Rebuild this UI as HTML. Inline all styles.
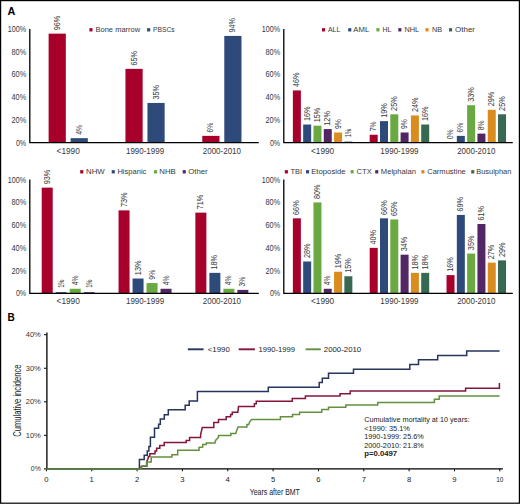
<!DOCTYPE html>
<html><head><meta charset="utf-8"><style>
html,body{margin:0;padding:0;background:#fff;}
body{width:520px;height:504px;overflow:hidden;}
svg{display:block;font-family:"Liberation Sans", sans-serif;}
</style></head><body>
<svg width="520" height="504" viewBox="0 0 520 504">
<rect x="0" y="0" width="520" height="504" fill="#fff"/>
<text x="26.20" y="32.04" font-size="8.4" text-anchor="end" textLength="18.4" lengthAdjust="spacingAndGlyphs" fill="#383838">100%</text>
<text x="26.20" y="54.76" font-size="8.4" text-anchor="end" textLength="14.7" lengthAdjust="spacingAndGlyphs" fill="#383838">80%</text>
<text x="26.20" y="77.48" font-size="8.4" text-anchor="end" textLength="14.7" lengthAdjust="spacingAndGlyphs" fill="#383838">60%</text>
<text x="26.20" y="100.20" font-size="8.4" text-anchor="end" textLength="14.7" lengthAdjust="spacingAndGlyphs" fill="#383838">40%</text>
<text x="26.20" y="122.92" font-size="8.4" text-anchor="end" textLength="14.7" lengthAdjust="spacingAndGlyphs" fill="#383838">20%</text>
<text x="26.20" y="145.64" font-size="8.4" text-anchor="end" textLength="10.3" lengthAdjust="spacingAndGlyphs" fill="#383838">0%</text>
<rect x="48.62" y="33.64" width="17.2" height="109.06" fill="#a6002b"/>
<text transform="translate(59.82,30.24) rotate(-90)" font-size="8.5" fill="#383838" textLength="14.5" lengthAdjust="spacingAndGlyphs">96%</text>
<rect x="70.62" y="138.16" width="17.2" height="4.54" fill="#2d4a7a"/>
<text transform="translate(81.82,134.76) rotate(-90)" font-size="8.5" fill="#383838" textLength="9.9" lengthAdjust="spacingAndGlyphs">4%</text>
<rect x="125.45" y="68.86" width="17.2" height="73.84" fill="#a6002b"/>
<text transform="translate(136.65,65.46) rotate(-90)" font-size="8.5" fill="#383838" textLength="14.5" lengthAdjust="spacingAndGlyphs">65%</text>
<rect x="147.45" y="102.94" width="17.2" height="39.76" fill="#2d4a7a"/>
<text transform="translate(158.65,99.54) rotate(-90)" font-size="8.5" fill="#383838" textLength="14.5" lengthAdjust="spacingAndGlyphs">35%</text>
<rect x="202.28" y="135.88" width="17.2" height="6.82" fill="#a6002b"/>
<text transform="translate(213.48,132.48) rotate(-90)" font-size="8.5" fill="#383838" textLength="9.9" lengthAdjust="spacingAndGlyphs">6%</text>
<rect x="224.28" y="35.92" width="17.2" height="106.78" fill="#2d4a7a"/>
<text transform="translate(235.48,32.52) rotate(-90)" font-size="8.5" fill="#383838" textLength="14.5" lengthAdjust="spacingAndGlyphs">94%</text>
<path d="M29.80,29.00V142.70H258.80" fill="none" stroke="#000" stroke-width="1.3"/>
<text x="68.22" y="153.55" font-size="8.2" text-anchor="middle" textLength="23.2" lengthAdjust="spacingAndGlyphs" fill="#383838">&lt;1990</text>
<text x="145.05" y="153.55" font-size="8.2" text-anchor="middle" textLength="38.2" lengthAdjust="spacingAndGlyphs" fill="#383838">1990-1999</text>
<text x="221.88" y="153.55" font-size="8.2" text-anchor="middle" textLength="38.2" lengthAdjust="spacingAndGlyphs" fill="#383838">2000-2010</text>
<rect x="89.40" y="28.15" width="3.1" height="3.3" fill="#a6002b"/>
<text x="95.50" y="31.70" font-size="7.9" textLength="44.699999999999996" lengthAdjust="spacingAndGlyphs" fill="#383838">Bone marrow</text>
<rect x="147.10" y="28.15" width="3.1" height="3.3" fill="#2d4a7a"/>
<text x="153.00" y="31.70" font-size="7.9" textLength="21.599999999999998" lengthAdjust="spacingAndGlyphs" fill="#383838">PBSCs</text>
<text x="280.20" y="32.04" font-size="8.4" text-anchor="end" textLength="18.4" lengthAdjust="spacingAndGlyphs" fill="#383838">100%</text>
<text x="280.20" y="54.76" font-size="8.4" text-anchor="end" textLength="14.7" lengthAdjust="spacingAndGlyphs" fill="#383838">80%</text>
<text x="280.20" y="77.48" font-size="8.4" text-anchor="end" textLength="14.7" lengthAdjust="spacingAndGlyphs" fill="#383838">60%</text>
<text x="280.20" y="100.20" font-size="8.4" text-anchor="end" textLength="14.7" lengthAdjust="spacingAndGlyphs" fill="#383838">40%</text>
<text x="280.20" y="122.92" font-size="8.4" text-anchor="end" textLength="14.7" lengthAdjust="spacingAndGlyphs" fill="#383838">20%</text>
<text x="280.20" y="145.64" font-size="8.4" text-anchor="end" textLength="10.3" lengthAdjust="spacingAndGlyphs" fill="#383838">0%</text>
<rect x="292.87" y="90.44" width="8.0" height="52.26" fill="#a6002b"/>
<text transform="translate(299.47,87.04) rotate(-90)" font-size="8.5" fill="#383838" textLength="14.5" lengthAdjust="spacingAndGlyphs">46%</text>
<rect x="303.17" y="124.52" width="8.0" height="18.18" fill="#2d4a7a"/>
<text transform="translate(309.77,121.12) rotate(-90)" font-size="8.5" fill="#383838" textLength="14.5" lengthAdjust="spacingAndGlyphs">16%</text>
<rect x="313.47" y="125.66" width="8.0" height="17.04" fill="#6aa842"/>
<text transform="translate(320.07,122.26) rotate(-90)" font-size="8.5" fill="#383838" textLength="14.5" lengthAdjust="spacingAndGlyphs">15%</text>
<rect x="323.77" y="129.07" width="8.0" height="13.63" fill="#522664"/>
<text transform="translate(330.37,125.67) rotate(-90)" font-size="8.5" fill="#383838" textLength="14.5" lengthAdjust="spacingAndGlyphs">12%</text>
<rect x="334.07" y="132.48" width="8.0" height="10.22" fill="#da8c1e"/>
<text transform="translate(340.67,129.08) rotate(-90)" font-size="8.5" fill="#383838" textLength="9.9" lengthAdjust="spacingAndGlyphs">9%</text>
<rect x="344.37" y="141.56" width="8.0" height="1.14" fill="#386852"/>
<text transform="translate(350.97,137.26) rotate(-90)" font-size="8.5" fill="#383838" textLength="8.3" lengthAdjust="spacingAndGlyphs">1%</text>
<rect x="369.70" y="134.75" width="8.0" height="7.95" fill="#a6002b"/>
<text transform="translate(376.30,131.35) rotate(-90)" font-size="8.5" fill="#383838" textLength="9.9" lengthAdjust="spacingAndGlyphs">7%</text>
<rect x="380.00" y="121.12" width="8.0" height="21.58" fill="#2d4a7a"/>
<text transform="translate(386.60,117.72) rotate(-90)" font-size="8.5" fill="#383838" textLength="14.5" lengthAdjust="spacingAndGlyphs">19%</text>
<rect x="390.30" y="114.30" width="8.0" height="28.40" fill="#6aa842"/>
<text transform="translate(396.90,110.90) rotate(-90)" font-size="8.5" fill="#383838" textLength="14.5" lengthAdjust="spacingAndGlyphs">25%</text>
<rect x="400.60" y="132.48" width="8.0" height="10.22" fill="#522664"/>
<text transform="translate(407.20,129.08) rotate(-90)" font-size="8.5" fill="#383838" textLength="9.9" lengthAdjust="spacingAndGlyphs">9%</text>
<rect x="410.90" y="115.44" width="8.0" height="27.26" fill="#da8c1e"/>
<text transform="translate(417.50,112.04) rotate(-90)" font-size="8.5" fill="#383838" textLength="14.5" lengthAdjust="spacingAndGlyphs">24%</text>
<rect x="421.20" y="124.52" width="8.0" height="18.18" fill="#386852"/>
<text transform="translate(427.80,121.12) rotate(-90)" font-size="8.5" fill="#383838" textLength="14.5" lengthAdjust="spacingAndGlyphs">16%</text>
<text transform="translate(453.13,139.30) rotate(-90)" font-size="8.5" fill="#383838" textLength="9.9" lengthAdjust="spacingAndGlyphs">0%</text>
<rect x="456.83" y="135.88" width="8.0" height="6.82" fill="#2d4a7a"/>
<text transform="translate(463.43,132.48) rotate(-90)" font-size="8.5" fill="#383838" textLength="9.9" lengthAdjust="spacingAndGlyphs">6%</text>
<rect x="467.13" y="105.21" width="8.0" height="37.49" fill="#6aa842"/>
<text transform="translate(473.73,101.81) rotate(-90)" font-size="8.5" fill="#383838" textLength="14.5" lengthAdjust="spacingAndGlyphs">33%</text>
<rect x="477.43" y="133.61" width="8.0" height="9.09" fill="#522664"/>
<text transform="translate(484.03,130.21) rotate(-90)" font-size="8.5" fill="#383838" textLength="9.9" lengthAdjust="spacingAndGlyphs">8%</text>
<rect x="487.73" y="109.76" width="8.0" height="32.94" fill="#da8c1e"/>
<text transform="translate(494.33,106.36) rotate(-90)" font-size="8.5" fill="#383838" textLength="14.5" lengthAdjust="spacingAndGlyphs">29%</text>
<rect x="498.03" y="114.30" width="8.0" height="28.40" fill="#386852"/>
<text transform="translate(504.63,110.90) rotate(-90)" font-size="8.5" fill="#383838" textLength="14.5" lengthAdjust="spacingAndGlyphs">25%</text>
<path d="M283.80,29.00V142.70H512.80" fill="none" stroke="#000" stroke-width="1.3"/>
<text x="322.62" y="153.55" font-size="8.2" text-anchor="middle" textLength="23.2" lengthAdjust="spacingAndGlyphs" fill="#383838">&lt;1990</text>
<text x="399.45" y="153.55" font-size="8.2" text-anchor="middle" textLength="38.2" lengthAdjust="spacingAndGlyphs" fill="#383838">1990-1999</text>
<text x="476.28" y="153.55" font-size="8.2" text-anchor="middle" textLength="38.2" lengthAdjust="spacingAndGlyphs" fill="#383838">2000-2010</text>
<rect x="322.00" y="28.15" width="3.1" height="3.3" fill="#a6002b"/>
<text x="327.90" y="31.70" font-size="7.9" textLength="12.4" lengthAdjust="spacingAndGlyphs" fill="#383838">ALL</text>
<rect x="348.20" y="28.15" width="3.1" height="3.3" fill="#2d4a7a"/>
<text x="353.30" y="31.70" font-size="7.9" textLength="15.9" lengthAdjust="spacingAndGlyphs" fill="#383838">AML</text>
<rect x="376.40" y="28.15" width="3.1" height="3.3" fill="#6aa842"/>
<text x="382.50" y="31.70" font-size="7.9" textLength="8.9" lengthAdjust="spacingAndGlyphs" fill="#383838">HL</text>
<rect x="398.30" y="28.15" width="3.1" height="3.3" fill="#522664"/>
<text x="404.40" y="31.70" font-size="7.9" textLength="14.700000000000001" lengthAdjust="spacingAndGlyphs" fill="#383838">NHL</text>
<rect x="425.50" y="28.15" width="3.1" height="3.3" fill="#da8c1e"/>
<text x="432.00" y="31.70" font-size="7.9" textLength="10.1" lengthAdjust="spacingAndGlyphs" fill="#383838">NB</text>
<rect x="449.00" y="28.15" width="3.1" height="3.3" fill="#386852"/>
<text x="455.10" y="31.70" font-size="7.9" textLength="19.9" lengthAdjust="spacingAndGlyphs" fill="#383838">Other</text>
<text x="26.20" y="182.64" font-size="8.4" text-anchor="end" textLength="18.4" lengthAdjust="spacingAndGlyphs" fill="#383838">100%</text>
<text x="26.20" y="205.36" font-size="8.4" text-anchor="end" textLength="14.7" lengthAdjust="spacingAndGlyphs" fill="#383838">80%</text>
<text x="26.20" y="228.08" font-size="8.4" text-anchor="end" textLength="14.7" lengthAdjust="spacingAndGlyphs" fill="#383838">60%</text>
<text x="26.20" y="250.80" font-size="8.4" text-anchor="end" textLength="14.7" lengthAdjust="spacingAndGlyphs" fill="#383838">40%</text>
<text x="26.20" y="273.52" font-size="8.4" text-anchor="end" textLength="14.7" lengthAdjust="spacingAndGlyphs" fill="#383838">20%</text>
<text x="26.20" y="296.24" font-size="8.4" text-anchor="end" textLength="10.3" lengthAdjust="spacingAndGlyphs" fill="#383838">0%</text>
<rect x="41.72" y="187.65" width="11.0" height="105.65" fill="#a6002b"/>
<text transform="translate(49.82,184.25) rotate(-90)" font-size="8.5" fill="#383838" textLength="14.5" lengthAdjust="spacingAndGlyphs">93%</text>
<rect x="55.72" y="292.16" width="11.0" height="1.14" fill="#2d4a7a"/>
<text transform="translate(63.82,287.86) rotate(-90)" font-size="8.5" fill="#383838" textLength="8.3" lengthAdjust="spacingAndGlyphs">1%</text>
<rect x="69.72" y="288.76" width="11.0" height="4.54" fill="#6aa842"/>
<text transform="translate(77.82,285.36) rotate(-90)" font-size="8.5" fill="#383838" textLength="9.9" lengthAdjust="spacingAndGlyphs">4%</text>
<rect x="83.72" y="292.16" width="11.0" height="1.14" fill="#522664"/>
<text transform="translate(91.82,287.86) rotate(-90)" font-size="8.5" fill="#383838" textLength="8.3" lengthAdjust="spacingAndGlyphs">1%</text>
<rect x="118.55" y="210.37" width="11.0" height="82.93" fill="#a6002b"/>
<text transform="translate(126.65,206.97) rotate(-90)" font-size="8.5" fill="#383838" textLength="14.5" lengthAdjust="spacingAndGlyphs">73%</text>
<rect x="132.55" y="278.53" width="11.0" height="14.77" fill="#2d4a7a"/>
<text transform="translate(140.65,275.13) rotate(-90)" font-size="8.5" fill="#383838" textLength="14.5" lengthAdjust="spacingAndGlyphs">13%</text>
<rect x="146.55" y="283.08" width="11.0" height="10.22" fill="#6aa842"/>
<text transform="translate(154.65,279.68) rotate(-90)" font-size="8.5" fill="#383838" textLength="9.9" lengthAdjust="spacingAndGlyphs">9%</text>
<rect x="160.55" y="288.76" width="11.0" height="4.54" fill="#522664"/>
<text transform="translate(168.65,285.36) rotate(-90)" font-size="8.5" fill="#383838" textLength="9.9" lengthAdjust="spacingAndGlyphs">4%</text>
<rect x="195.38" y="212.64" width="11.0" height="80.66" fill="#a6002b"/>
<text transform="translate(203.48,209.24) rotate(-90)" font-size="8.5" fill="#383838" textLength="14.5" lengthAdjust="spacingAndGlyphs">71%</text>
<rect x="209.38" y="272.85" width="11.0" height="20.45" fill="#2d4a7a"/>
<text transform="translate(217.48,269.45) rotate(-90)" font-size="8.5" fill="#383838" textLength="14.5" lengthAdjust="spacingAndGlyphs">18%</text>
<rect x="223.38" y="288.76" width="11.0" height="4.54" fill="#6aa842"/>
<text transform="translate(231.48,285.36) rotate(-90)" font-size="8.5" fill="#383838" textLength="9.9" lengthAdjust="spacingAndGlyphs">4%</text>
<rect x="237.38" y="289.89" width="11.0" height="3.41" fill="#522664"/>
<text transform="translate(245.48,286.49) rotate(-90)" font-size="8.5" fill="#383838" textLength="9.9" lengthAdjust="spacingAndGlyphs">3%</text>
<path d="M29.80,179.40V293.30H258.80" fill="none" stroke="#000" stroke-width="1.3"/>
<text x="68.22" y="304.15" font-size="8.2" text-anchor="middle" textLength="23.2" lengthAdjust="spacingAndGlyphs" fill="#383838">&lt;1990</text>
<text x="145.05" y="304.15" font-size="8.2" text-anchor="middle" textLength="38.2" lengthAdjust="spacingAndGlyphs" fill="#383838">1990-1999</text>
<text x="221.88" y="304.15" font-size="8.2" text-anchor="middle" textLength="38.2" lengthAdjust="spacingAndGlyphs" fill="#383838">2000-2010</text>
<rect x="80.20" y="170.15" width="3.1" height="3.3" fill="#a6002b"/>
<text x="86.00" y="173.70" font-size="7.9" textLength="18.799999999999997" lengthAdjust="spacingAndGlyphs" fill="#383838">NHW</text>
<rect x="111.70" y="170.15" width="3.1" height="3.3" fill="#2d4a7a"/>
<text x="117.40" y="173.70" font-size="7.9" textLength="29.0" lengthAdjust="spacingAndGlyphs" fill="#383838">Hispanic</text>
<rect x="154.00" y="170.15" width="3.1" height="3.3" fill="#6aa842"/>
<text x="159.30" y="173.70" font-size="7.9" textLength="16.5" lengthAdjust="spacingAndGlyphs" fill="#383838">NHB</text>
<rect x="182.70" y="170.15" width="3.1" height="3.3" fill="#522664"/>
<text x="188.30" y="173.70" font-size="7.9" textLength="19.4" lengthAdjust="spacingAndGlyphs" fill="#383838">Other</text>
<text x="280.20" y="182.64" font-size="8.4" text-anchor="end" textLength="18.4" lengthAdjust="spacingAndGlyphs" fill="#383838">100%</text>
<text x="280.20" y="205.36" font-size="8.4" text-anchor="end" textLength="14.7" lengthAdjust="spacingAndGlyphs" fill="#383838">80%</text>
<text x="280.20" y="228.08" font-size="8.4" text-anchor="end" textLength="14.7" lengthAdjust="spacingAndGlyphs" fill="#383838">60%</text>
<text x="280.20" y="250.80" font-size="8.4" text-anchor="end" textLength="14.7" lengthAdjust="spacingAndGlyphs" fill="#383838">40%</text>
<text x="280.20" y="273.52" font-size="8.4" text-anchor="end" textLength="14.7" lengthAdjust="spacingAndGlyphs" fill="#383838">20%</text>
<text x="280.20" y="296.24" font-size="8.4" text-anchor="end" textLength="10.3" lengthAdjust="spacingAndGlyphs" fill="#383838">0%</text>
<rect x="292.87" y="218.32" width="8.0" height="74.98" fill="#a6002b"/>
<text transform="translate(299.47,214.92) rotate(-90)" font-size="8.5" fill="#383838" textLength="14.5" lengthAdjust="spacingAndGlyphs">66%</text>
<rect x="303.17" y="261.49" width="8.0" height="31.81" fill="#2d4a7a"/>
<text transform="translate(309.77,258.09) rotate(-90)" font-size="8.5" fill="#383838" textLength="14.5" lengthAdjust="spacingAndGlyphs">28%</text>
<rect x="313.47" y="202.42" width="8.0" height="90.88" fill="#6aa842"/>
<text transform="translate(320.07,199.02) rotate(-90)" font-size="8.5" fill="#383838" textLength="14.5" lengthAdjust="spacingAndGlyphs">80%</text>
<rect x="323.77" y="288.76" width="8.0" height="4.54" fill="#522664"/>
<text transform="translate(330.37,285.36) rotate(-90)" font-size="8.5" fill="#383838" textLength="9.9" lengthAdjust="spacingAndGlyphs">4%</text>
<rect x="334.07" y="271.72" width="8.0" height="21.58" fill="#da8c1e"/>
<text transform="translate(340.67,268.32) rotate(-90)" font-size="8.5" fill="#383838" textLength="14.5" lengthAdjust="spacingAndGlyphs">19%</text>
<rect x="344.37" y="276.26" width="8.0" height="17.04" fill="#386852"/>
<text transform="translate(350.97,272.86) rotate(-90)" font-size="8.5" fill="#383838" textLength="14.5" lengthAdjust="spacingAndGlyphs">15%</text>
<rect x="369.70" y="247.86" width="8.0" height="45.44" fill="#a6002b"/>
<text transform="translate(376.30,244.46) rotate(-90)" font-size="8.5" fill="#383838" textLength="14.5" lengthAdjust="spacingAndGlyphs">40%</text>
<rect x="380.00" y="218.32" width="8.0" height="74.98" fill="#2d4a7a"/>
<text transform="translate(386.60,214.92) rotate(-90)" font-size="8.5" fill="#383838" textLength="14.5" lengthAdjust="spacingAndGlyphs">66%</text>
<rect x="390.30" y="219.46" width="8.0" height="73.84" fill="#6aa842"/>
<text transform="translate(396.90,216.06) rotate(-90)" font-size="8.5" fill="#383838" textLength="14.5" lengthAdjust="spacingAndGlyphs">65%</text>
<rect x="400.60" y="254.68" width="8.0" height="38.62" fill="#522664"/>
<text transform="translate(407.20,251.28) rotate(-90)" font-size="8.5" fill="#383838" textLength="14.5" lengthAdjust="spacingAndGlyphs">34%</text>
<rect x="410.90" y="272.85" width="8.0" height="20.45" fill="#da8c1e"/>
<text transform="translate(417.50,269.45) rotate(-90)" font-size="8.5" fill="#383838" textLength="14.5" lengthAdjust="spacingAndGlyphs">18%</text>
<rect x="421.20" y="272.85" width="8.0" height="20.45" fill="#386852"/>
<text transform="translate(427.80,269.45) rotate(-90)" font-size="8.5" fill="#383838" textLength="14.5" lengthAdjust="spacingAndGlyphs">18%</text>
<rect x="446.53" y="275.12" width="8.0" height="18.18" fill="#a6002b"/>
<text transform="translate(453.13,271.72) rotate(-90)" font-size="8.5" fill="#383838" textLength="14.5" lengthAdjust="spacingAndGlyphs">16%</text>
<rect x="456.83" y="214.92" width="8.0" height="78.38" fill="#2d4a7a"/>
<text transform="translate(463.43,211.52) rotate(-90)" font-size="8.5" fill="#383838" textLength="14.5" lengthAdjust="spacingAndGlyphs">69%</text>
<rect x="467.13" y="253.54" width="8.0" height="39.76" fill="#6aa842"/>
<text transform="translate(473.73,250.14) rotate(-90)" font-size="8.5" fill="#383838" textLength="14.5" lengthAdjust="spacingAndGlyphs">35%</text>
<rect x="477.43" y="224.00" width="8.0" height="69.30" fill="#522664"/>
<text transform="translate(484.03,220.60) rotate(-90)" font-size="8.5" fill="#383838" textLength="14.5" lengthAdjust="spacingAndGlyphs">61%</text>
<rect x="487.73" y="262.63" width="8.0" height="30.67" fill="#da8c1e"/>
<text transform="translate(494.33,259.23) rotate(-90)" font-size="8.5" fill="#383838" textLength="14.5" lengthAdjust="spacingAndGlyphs">27%</text>
<rect x="498.03" y="260.36" width="8.0" height="32.94" fill="#386852"/>
<text transform="translate(504.63,256.96) rotate(-90)" font-size="8.5" fill="#383838" textLength="14.5" lengthAdjust="spacingAndGlyphs">29%</text>
<path d="M283.80,179.40V293.30H512.80" fill="none" stroke="#000" stroke-width="1.3"/>
<text x="322.62" y="304.15" font-size="8.2" text-anchor="middle" textLength="23.2" lengthAdjust="spacingAndGlyphs" fill="#383838">&lt;1990</text>
<text x="399.45" y="304.15" font-size="8.2" text-anchor="middle" textLength="38.2" lengthAdjust="spacingAndGlyphs" fill="#383838">1990-1999</text>
<text x="476.28" y="304.15" font-size="8.2" text-anchor="middle" textLength="38.2" lengthAdjust="spacingAndGlyphs" fill="#383838">2000-2010</text>
<rect x="284.80" y="170.15" width="3.1" height="3.3" fill="#a6002b"/>
<text x="290.50" y="173.70" font-size="7.9" textLength="11.6" lengthAdjust="spacingAndGlyphs" fill="#383838">TBI</text>
<rect x="306.00" y="170.15" width="3.1" height="3.3" fill="#2d4a7a"/>
<text x="311.20" y="173.70" font-size="7.9" textLength="34.4" lengthAdjust="spacingAndGlyphs" fill="#383838">Etoposide</text>
<rect x="350.60" y="170.15" width="3.1" height="3.3" fill="#6aa842"/>
<text x="356.60" y="173.70" font-size="7.9" textLength="15.200000000000001" lengthAdjust="spacingAndGlyphs" fill="#383838">CTX</text>
<rect x="375.20" y="170.15" width="3.1" height="3.3" fill="#522664"/>
<text x="380.80" y="173.70" font-size="7.9" textLength="35.199999999999996" lengthAdjust="spacingAndGlyphs" fill="#383838">Melphalan</text>
<rect x="421.30" y="170.15" width="3.1" height="3.3" fill="#da8c1e"/>
<text x="427.20" y="173.70" font-size="7.9" textLength="38.6" lengthAdjust="spacingAndGlyphs" fill="#383838">Carmustine</text>
<rect x="471.20" y="170.15" width="3.1" height="3.3" fill="#386852"/>
<text x="476.20" y="173.70" font-size="7.9" textLength="35.199999999999996" lengthAdjust="spacingAndGlyphs" fill="#383838">Busulphan</text>
<text x="7.60" y="15.30" font-size="10.8" font-weight="bold" fill="#000">A</text>
<text x="7.60" y="320.90" font-size="10.0" font-weight="bold" fill="#000">B</text>
<path d="M44.0,468.90H46.5" stroke="#000" stroke-width="1"/>
<text x="40.80" y="471.46" font-size="7.1" text-anchor="end" textLength="10.0" lengthAdjust="spacingAndGlyphs" fill="#333">0%</text>
<path d="M44.0,435.35H46.5" stroke="#000" stroke-width="1"/>
<text x="40.80" y="437.91" font-size="7.1" text-anchor="end" textLength="15.1" lengthAdjust="spacingAndGlyphs" fill="#333">10%</text>
<path d="M44.0,401.80H46.5" stroke="#000" stroke-width="1"/>
<text x="40.80" y="404.36" font-size="7.1" text-anchor="end" textLength="15.1" lengthAdjust="spacingAndGlyphs" fill="#333">20%</text>
<path d="M44.0,368.25H46.5" stroke="#000" stroke-width="1"/>
<text x="40.80" y="370.81" font-size="7.1" text-anchor="end" textLength="15.1" lengthAdjust="spacingAndGlyphs" fill="#333">30%</text>
<path d="M44.0,334.70H46.5" stroke="#000" stroke-width="1"/>
<text x="40.80" y="337.26" font-size="7.1" text-anchor="end" textLength="15.1" lengthAdjust="spacingAndGlyphs" fill="#333">40%</text>
<path d="M46.40,468.9V471.30" stroke="#000" stroke-width="1"/>
<text x="46.40" y="481.70" font-size="7.7" text-anchor="middle" fill="#222">0</text>
<path d="M91.74,468.9V471.30" stroke="#000" stroke-width="1"/>
<text x="91.74" y="481.70" font-size="7.7" text-anchor="middle" fill="#222">1</text>
<path d="M137.08,468.9V471.30" stroke="#000" stroke-width="1"/>
<text x="137.08" y="481.70" font-size="7.7" text-anchor="middle" fill="#222">2</text>
<path d="M182.42,468.9V471.30" stroke="#000" stroke-width="1"/>
<text x="182.42" y="481.70" font-size="7.7" text-anchor="middle" fill="#222">3</text>
<path d="M227.76,468.9V471.30" stroke="#000" stroke-width="1"/>
<text x="227.76" y="481.70" font-size="7.7" text-anchor="middle" fill="#222">4</text>
<path d="M273.10,468.9V471.30" stroke="#000" stroke-width="1"/>
<text x="273.10" y="481.70" font-size="7.7" text-anchor="middle" fill="#222">5</text>
<path d="M318.44,468.9V471.30" stroke="#000" stroke-width="1"/>
<text x="318.44" y="481.70" font-size="7.7" text-anchor="middle" fill="#222">6</text>
<path d="M363.78,468.9V471.30" stroke="#000" stroke-width="1"/>
<text x="363.78" y="481.70" font-size="7.7" text-anchor="middle" fill="#222">7</text>
<path d="M409.12,468.9V471.30" stroke="#000" stroke-width="1"/>
<text x="409.12" y="481.70" font-size="7.7" text-anchor="middle" fill="#222">8</text>
<path d="M454.46,468.9V471.30" stroke="#000" stroke-width="1"/>
<text x="454.46" y="481.70" font-size="7.7" text-anchor="middle" fill="#222">9</text>
<path d="M499.80,468.9V471.30" stroke="#000" stroke-width="1"/>
<text x="499.80" y="481.70" font-size="7.7" text-anchor="middle" textLength="7.2" lengthAdjust="spacingAndGlyphs" fill="#222">10</text>
<path d="M46.9,332.50V468.9H502.9" fill="none" stroke="#000" stroke-width="1.3"/>
<text x="274.80" y="495.00" font-size="9.6" text-anchor="middle" textLength="50.2" lengthAdjust="spacingAndGlyphs" fill="#222">Years after BMT</text>
<text transform="translate(20.9,400.6) rotate(-90)" font-size="10.2" text-anchor="middle" fill="#222" textLength="72.3" lengthAdjust="spacingAndGlyphs">Cumulative incidence</text>
<path d="M46.4,468.9 L139.4,468.9 L139.4,459.4 L144.2,459.4 L144.2,455.3 L147.3,455.3 L147.3,451.0 L148.9,451.0 L148.9,446.5 L150.4,446.5 L150.4,437.3 L154.5,437.3 L154.5,428.2 L158.6,428.2 L158.6,424.3 L160.3,424.3 L160.3,418.9 L164.3,418.9 L164.3,414.8 L168.3,414.8 L168.3,409.7 L185.2,409.7 L185.2,405.3 L189.2,405.3 L189.2,400.9 L197.4,400.9 L197.4,391.5 L268.3,391.5 L268.3,387.3 L319.2,387.3 L319.2,382.6 L322.3,382.6 L322.3,378.3 L328.5,378.3 L328.5,373.2 L353.5,373.2 L353.5,369.3 L409.8,369.3 L409.8,364.6 L418.5,364.6 L418.5,359.8 L437.7,359.8 L437.7,355.4 L466.7,355.4 L466.7,350.9 L499.6,350.9" fill="none" stroke="#27345c" stroke-width="1.5" stroke-linejoin="miter"/>
<path d="M140.5,468.9 L141.3,466.2 L146.9,466.2 L146.9,461.0 L148.3,458.0 L148.3,456.5 L149.8,456.5 L149.8,453.8 L155.0,453.8 L155.0,450.9 L156.6,450.9 L156.6,448.2 L159.8,448.2 L159.8,445.5 L164.2,445.5 L164.2,442.4 L186.2,442.4 L186.2,440.4 L189.6,440.4 L189.6,437.5 L200.6,437.5 L200.6,434.6 L201.5,431.0 L202.3,427.5 L213.8,427.5 L213.8,422.5 L218.5,422.5 L218.5,419.6 L226.2,419.6 L226.2,416.7 L230.6,416.7 L230.6,414.5 L232.3,414.5 L232.3,412.3 L237.9,412.3 L238.5,406.5 L254.4,406.5 L254.4,403.8 L256.3,403.8 L256.3,401.2 L292.3,401.2 L292.3,398.4 L305.4,398.4 L305.4,396.1 L340.0,396.1 L340.0,393.8 L350.2,393.8 L350.2,391.1 L465.6,391.1 L465.6,388.3 L499.4,388.3 L499.4,382.9" fill="none" stroke="#82163a" stroke-width="1.5" stroke-linejoin="miter"/>
<path d="M46.4,468.9 L140.4,468.9 L142.5,466.0 L146.5,466.0 L146.5,462.0 L151.2,462.0 L151.2,457.1 L171.9,457.1 L171.9,454.7 L177.7,454.7 L177.7,450.3 L199.0,450.3 L199.0,447.5 L202.7,447.0 L202.7,444.6 L206.3,444.6 L206.3,443.0 L215.0,443.0 L215.6,440.4 L218.5,437.2 L218.5,435.6 L230.8,435.6 L230.8,433.4 L235.8,433.4 L236.5,431.0 L238.1,427.0 L246.9,427.0 L246.9,424.6 L248.7,424.6 L249.5,422.0 L251.5,419.6 L280.4,419.6 L280.4,416.7 L292.5,416.7 L292.5,414.4 L299.6,414.4 L299.6,412.3 L321.7,412.3 L321.7,409.4 L328.5,409.4 L328.5,407.2 L345.8,407.2 L345.8,405.0 L377.7,405.0 L377.7,402.6 L434.4,402.6 L434.4,399.2 L439.2,399.2 L439.2,396.0 L499.6,396.0" fill="none" stroke="#62903f" stroke-width="1.5" stroke-linejoin="miter"/>
<path d="M187.8,349.3H203.6" stroke="#27345c" stroke-width="1.9"/>
<text x="207.80" y="352.00" font-size="7.3" textLength="22.0" lengthAdjust="spacingAndGlyphs" fill="#222">&lt;1990</text>
<path d="M238.7,349.3H254.9" stroke="#82163a" stroke-width="1.9"/>
<text x="258.50" y="352.00" font-size="7.3" textLength="36.5" lengthAdjust="spacingAndGlyphs" fill="#222">1990-1999</text>
<path d="M305.6,349.3H320.8" stroke="#62903f" stroke-width="1.9"/>
<text x="323.80" y="352.00" font-size="7.3" textLength="37.4" lengthAdjust="spacingAndGlyphs" fill="#222">2000-2010</text>
<text x="364.20" y="421.70" font-size="7.4" textLength="105.5" lengthAdjust="spacingAndGlyphs" fill="#222">Cumulative mortality at 10 years:</text>
<text x="364.20" y="430.70" font-size="7.4" textLength="45.7" lengthAdjust="spacingAndGlyphs" fill="#222">&lt;1990: 35.1%</text>
<text x="364.20" y="439.40" font-size="7.4" textLength="59.6" lengthAdjust="spacingAndGlyphs" fill="#222">1990-1999: 25.6%</text>
<text x="364.20" y="447.80" font-size="7.4" textLength="59.6" lengthAdjust="spacingAndGlyphs" fill="#222">2000-2010: 21.8%</text>
<text x="364.20" y="456.30" font-size="7.4" font-weight="bold" textLength="33" lengthAdjust="spacingAndGlyphs" fill="#222">p=0.0497</text>
<rect x="0.6" y="0.6" width="518.8" height="502.6" fill="none" stroke="#000" stroke-width="1.2"/>
</svg>
</body></html>
